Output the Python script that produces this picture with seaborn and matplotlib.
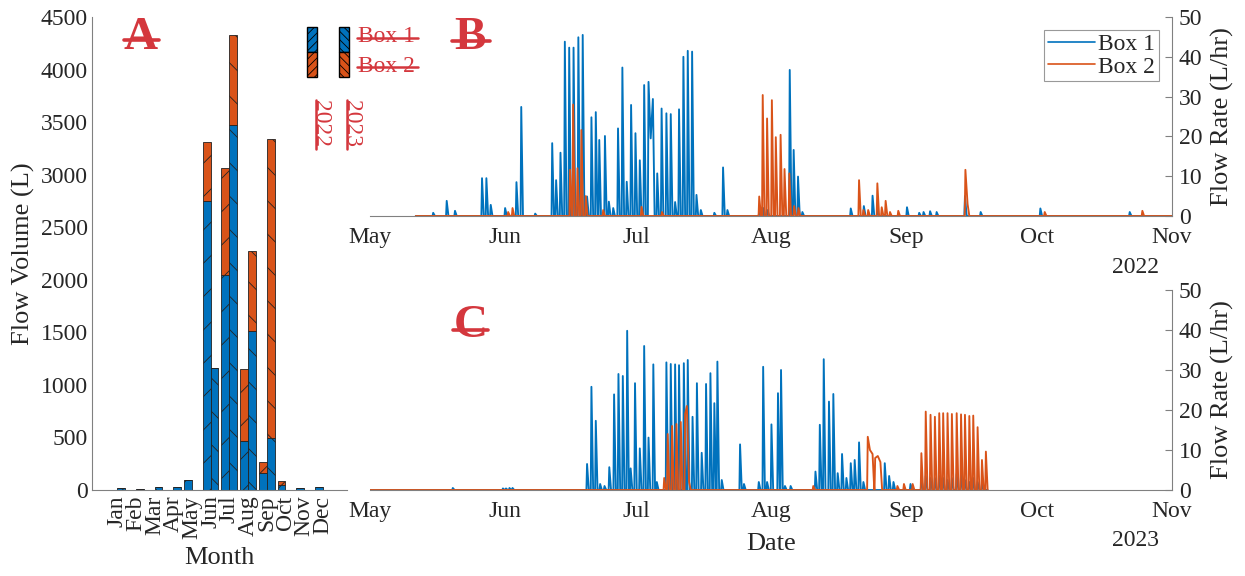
import numpy as np
import pandas as pd
import matplotlib
matplotlib.use("Agg")
import matplotlib.pyplot as plt
import matplotlib.dates as mdates
import seaborn as sns
from matplotlib.patches import Rectangle
from matplotlib.lines import Line2D

# ---- panel A: monthly volume (L) ----
months = ["Jan", "Feb", "Mar", "Apr", "May", "Jun", "Jul", "Aug", "Sep", "Oct", "Nov", "Dec"]
box1_2022 = [0, 0, 0, 0, 92, 2750, 2050, 470, 165, 48, 15, 25]
box2_2022 = [0, 0, 0, 0, 0, 560, 1010, 680, 105, 41, 0, 0]
box1_2023 = [15, 8, 32, 32, 0, 1165, 3470, 1510, 490, 0, 0, 0]
box2_2023 = [0, 0, 0, 0, 0, 0, 860, 760, 2850, 0, 0, 0]

# ---- panels B/C: flow-rate peaks (days after 1 May, L/hr) ----
b1_22_day = [14.5, 17.6, 19.5, 25.7, 26.7, 27.7, 31.0, 33.6, 34.7, 37.9, 41.8, 42.7, 43.7,
             44.7, 45.7, 46.7, 47.8, 48.8, 49.8, 50.8, 51.8, 52.6, 53.9, 54.8, 55.8, 56.9,
             57.9, 58.9, 59.9, 60.9, 61.9, 62.9, 63.9, 64.4, 64.9, 65.9, 66.9, 68.0, 69.0,
             70.0, 70.9, 71.9, 72.9, 73.9, 74.9, 75.9, 79.0, 81.0, 82.0, 89.3, 90.3, 91.2,
             96.3, 97.2, 98.2, 99.2, 110.3, 113.3, 115.3, 116.4, 123.2, 126.0, 127.0, 128.5,
             130.0, 136.5, 140.1, 153.8, 174.3]
b1_22_rate = [0.8, 3.8, 1.3, 9.5, 9.5, 2.8, 2.0, 8.5, 27.4, 0.6, 18.3, 9.0, 15.9,
              43.8, 42.3, 42.3, 44.9, 45.5, 4.9, 24.8, 26.1, 19.1, 20.1, 3.6, 2.0, 22.0,
              37.3, 8.6, 27.9, 20.8, 14.0, 32.9, 33.7, 19.5, 29.4, 10.7, 27.0, 25.8, 25.6,
              3.5, 26.8, 40.0, 41.5, 41.3, 5.3, 1.5, 0.8, 12.2, 1.5, 1.0, 2.0, 1.5,
              36.7, 16.6, 9.9, 1.0, 1.9, 2.5, 5.1, 1.5, 2.2, 0.8, 1.0, 1.2,
              1.0, 5.0, 1.0, 1.9, 1.0]
b2_22_day = [31.7, 32.7, 45.9, 46.6, 47.6, 48.5, 49.5, 53.5, 62.3, 67.0, 89.3, 90.1, 91.1,
             92.2, 93.1, 94.2, 95.1, 96.2, 97.3, 98.3, 112.2, 113.2, 114.3, 116.4, 117.4,
             118.3, 119.3, 121.2, 136.6, 137.1, 154.8, 177.2]
b2_22_rate = [1.0, 2.0, 11.6, 28.0, 12.0, 21.6, 5.0, 1.5, 2.3, 1.0, 4.9, 30.4, 24.5,
              29.1, 19.8, 20.4, 11.8, 10.7, 2.5, 2.0, 9.0, 1.5, 1.5, 8.2, 2.2,
              3.8, 1.0, 1.3, 11.6, 3.0, 1.0, 1.3]

b1_23_day = [19.0, 30.5, 31.2, 32.0, 32.7, 49.8, 50.8, 51.8, 52.8, 53.8, 54.9, 56.0, 57.0,
             58.0, 59.0, 59.8, 60.8, 61.9, 62.9, 63.9, 65.0, 65.8, 68.0, 69.0, 70.0, 70.9,
             72.0, 72.9, 74.0, 75.0, 76.1, 77.1, 78.1, 79.0, 79.7, 80.7, 84.9, 85.8, 89.2,
             90.2, 91.1, 92.1, 93.6, 94.3, 95.2, 96.5, 102.2, 103.2, 104.1, 105.3, 106.3,
             107.3, 108.3, 109.3, 110.3, 111.2, 112.2, 113.2, 118.1, 119.1, 120.1, 124.0,
             126.5, 127.5, 128.6, 129.6, 130.6, 131.5, 132.5, 133.5, 134.6, 135.6, 136.5,
             137.5, 138.4, 139.4, 140.4]
b1_23_rate = [0.5, 0.4, 0.4, 0.5, 0.5, 6.5, 25.8, 17.3, 1.5, 1.0, 5.7, 23.9, 29.0,
              28.5, 39.8, 5.4, 26.7, 10.4, 36.0, 13.1, 31.4, 2.0, 31.9, 31.5, 31.4, 31.2,
              31.7, 32.5, 18.3, 26.7, 9.3, 26.5, 29.2, 21.7, 32.1, 2.5, 11.4, 1.5, 2.0,
              30.8, 2.0, 16.4, 24.2, 30.0, 1.0, 1.0, 4.6, 16.3, 32.7, 22.1, 24.0,
              4.2, 9.0, 3.0, 6.7, 7.5, 11.9, 2.0, 6.7, 3.5, 2.0, 1.5,
              3.0, 3.5, 3.0, 3.0, 3.5, 3.0, 2.5, 3.0, 4.0, 3.8, 2.5,
              2.0, 3.0, 2.0, 1.5]
b2_23_day = [67.5, 68.3, 69.3, 70.3, 71.3, 72.3, 72.7, 73.2, 101.7, 114.2, 114.7, 115.3,
             115.9, 116.5, 117.1, 121.0, 122.5, 124.5, 126.5, 127.5, 128.6, 129.6, 130.6,
             131.5, 132.5, 133.5, 134.6, 135.6, 136.5, 137.5, 138.4, 139.4, 140.4, 141.3]
b2_23_rate = [3.0, 14.0, 16.0, 16.5, 17.0, 19.0, 21.0, 2.0, 1.0, 13.3, 10.0, 9.0,
              8.0, 8.5, 7.0, 1.0, 1.5, 1.5, 9.2, 19.6, 18.8, 18.3, 19.2,
              19.2, 19.2, 19.0, 19.2, 18.9, 18.8, 18.5, 18.6, 15.7, 7.5, 9.6]

BLUE = "#0072BD"
ORANGE = "#D95319"
RED = "#d4373d"
SPINE = "#808080"
TXT = "#262626"
W, H = 1245, 576


def fx(px):
    return px / W


def fy(py):
    return 1 - py / H


def build(days, rates, first, last):
    # spikes drop back to the zero baseline between readings
    t, v = [first], [0.0]
    n = len(days)
    for i in range(n):
        prev = days[i - 1] if i > 0 else first - 1
        nxt = days[i + 1] if i < n - 1 else last + 1
        if days[i] - prev > 0.6:
            t.append(days[i] - 0.15); v.append(0.0)
        t.append(days[i]); v.append(rates[i])
        if nxt - days[i] > 0.6:
            t.append(days[i] + 0.4); v.append(0.0)
    t.append(last); v.append(0.0)
    return t, v


def series_frame(year, first, last, b1, b2):
    start = pd.Timestamp(f"{year}-05-01")
    parts = []
    for name, (d, r) in (("Box 1", b1), ("Box 2", b2)):
        t, v = build(d, r, first, last)
        parts.append(pd.DataFrame({
            "date": start + pd.to_timedelta(t, unit="D"),
            "rate": v,
            "box": name,
        }))
    return pd.concat(parts, ignore_index=True)


df22 = series_frame(2022, 10.5, 184.0, (b1_22_day, b1_22_rate), (b2_22_day, b2_22_rate))
df23 = series_frame(2023, 0.0, 141.7, (b1_23_day, b1_23_rate), (b2_23_day, b2_23_rate))

sns.set_theme(style="white")
plt.rcParams["font.family"] = ["Liberation Serif", "DejaVu Serif"]
plt.rcParams["hatch.linewidth"] = 0.6

fig = plt.figure(figsize=(12.45, 5.76), dpi=100)
axA = fig.add_axes([fx(92), fy(490), (347 - 92) / W, (490 - 17) / H])
axB = fig.add_axes([fx(370), fy(216), (1172 - 370) / W, (216 - 17) / H])
axC = fig.add_axes([fx(370), fy(490), (1172 - 370) / W, (490 - 290) / H])

# ---- A: grouped stacked bars ----
pos = np.arange(1, 13)
bw = 0.42
b1_22 = np.array(box1_2022)
b1_23 = np.array(box1_2023)
axA.bar(pos - bw / 2, b1_22, bw, color=BLUE, edgecolor="#222222", lw=0.6, hatch="/")
axA.bar(pos - bw / 2, box2_2022, bw, bottom=b1_22, color=ORANGE, edgecolor="#222222", lw=0.6, hatch="/")
axA.bar(pos + bw / 2, b1_23, bw, color=BLUE, edgecolor="#222222", lw=0.6, hatch="\\")
axA.bar(pos + bw / 2, box2_2023, bw, bottom=b1_23, color=ORANGE, edgecolor="#222222", lw=0.6, hatch="\\")
axA.set_xlim(-0.35, 13.3)
axA.set_ylim(0, 4500)
axA.set_yticks(range(0, 4501, 500))
axA.set_xticks(pos)
axA.set_xticklabels(months, rotation=90)
axA.set_ylabel("Flow Volume (L)", fontsize=19, color=TXT, labelpad=4)
axA.set_xlabel("Month", fontsize=19, color=TXT, labelpad=6)
for s in ("top", "right"):
    axA.spines[s].set_visible(False)
for s in ("left", "bottom"):
    axA.spines[s].set_color(SPINE)
    axA.spines[s].set_linewidth(0.8)
axA.tick_params(direction="in", length=4, width=0.8, color=SPINE, labelsize=17,
                labelcolor=TXT, pad=3)
axA.tick_params(axis="x", length=0, pad=4)

# ---- B / C: flow rate time series ----
for ax, df, year, show_leg in ((axB, df22, 2022, True), (axC, df23, 2023, False)):
    sns.lineplot(data=df, x="date", y="rate", hue="box",
                 palette={"Box 1": BLUE, "Box 2": ORANGE},
                 estimator=None, linewidth=1.35, ax=ax, legend=False)
    ax.set_xlim(pd.Timestamp(f"{year}-05-01"), pd.Timestamp(f"{year}-11-01"))
    ax.set_ylim(0, 50)
    ax.set_yticks(range(0, 51, 10))
    ax.xaxis.set_major_locator(mdates.MonthLocator())
    ax.xaxis.set_major_formatter(mdates.DateFormatter("%b"))
    ax.yaxis.tick_right()
    ax.yaxis.set_label_position("right")
    ax.set_ylabel("Flow Rate (L/hr)", fontsize=19, color=TXT, labelpad=6)
    ax.set_xlabel("")
    for s in ("top", "left"):
        ax.spines[s].set_visible(False)
    for s in ("right", "bottom"):
        ax.spines[s].set_color(SPINE)
        ax.spines[s].set_linewidth(0.8)
    ax.tick_params(direction="in", length=5, width=0.8, color=SPINE, labelsize=17,
                   labelcolor=TXT, pad=5)
    ax.tick_params(axis="x", pad=8)
    ax.text(0.954, -0.26 if year == 2022 else -0.25, str(year), transform=ax.transAxes,
            ha="center", va="center", fontsize=17, color=TXT)
    if show_leg:
        handles = [Line2D([], [], color=BLUE, lw=1.2), Line2D([], [], color=ORANGE, lw=1.2)]
        leg = ax.legend(handles, ["Box 1", "Box 2"], loc="upper right", fontsize=17,
                        frameon=True, fancybox=False, edgecolor=SPINE, borderpad=0.15,
                        handlelength=2.0, handletextpad=0.15, labelspacing=0.05,
                        borderaxespad=0.55)
        leg.get_frame().set_linewidth(0.8)
        for t in leg.get_texts():
            t.set_color(TXT)

axC.set_xlabel("Date", fontsize=19, color=TXT, labelpad=8)

# ---- red struck-through annotations ----
def strike_h(x0, x1, y, lw=2.0):
    fig.add_artist(Line2D([fx(x0), fx(x1)], [fy(y), fy(y)], color=RED, lw=lw,
                          transform=fig.transFigure))


def strike_v(x, y0, y1, lw=2.0):
    fig.add_artist(Line2D([fx(x), fx(x)], [fy(y0), fy(y1)], color=RED, lw=lw,
                          transform=fig.transFigure))


for lab, cx, cy, sx0, sx1, sy in (("A", 141, 38, 124, 159, 40),
                                  ("B", 470, 38, 452, 490, 41),
                                  ("C", 471, 326, 453, 488, 330)):
    fig.text(fx(cx), fy(cy), lab, ha="center", va="center", fontsize=34,
             fontweight="bold", color=RED)
    strike_h(sx0, sx1, sy, lw=2.6)

for lab, cy in (("Box 1", 37), ("Box 2", 66)):
    fig.text(fx(358), fy(cy), lab, ha="left", va="center", fontsize=17, color=RED)
    strike_h(357, 418, cy + 1, lw=1.8)

for lab, cx, sx in (("2022", 321, 316), ("2023", 352, 347)):
    fig.text(fx(cx), fy(124), lab, ha="center", va="center", fontsize=17,
             rotation=-90, color=RED)
    strike_v(sx, 100, 149, lw=1.8)

# legend swatches for the bar panel
for x0, hatch in ((307, "////"), (339, "\\\\\\\\")):
    for y_top, col in ((27, BLUE), (52, ORANGE)):
        fig.add_artist(Rectangle((fx(x0), fy(y_top + 25)), 10 / W, 25 / H,
                                 facecolor=col, edgecolor="black", lw=1.0,
                                 hatch=hatch, transform=fig.transFigure))

fig.savefig("out.png", dpi=100)
